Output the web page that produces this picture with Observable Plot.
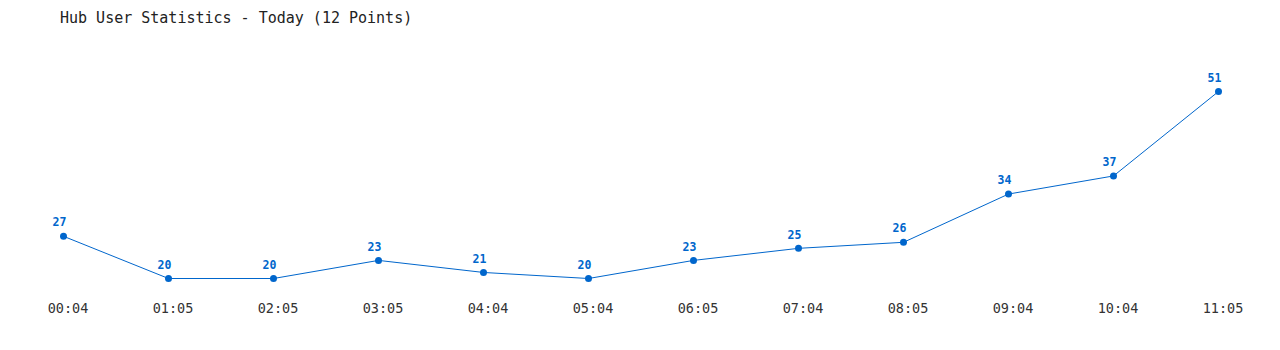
<!DOCTYPE html>
<html>
<head>
<meta charset="utf-8">
<script src="https://cdn.jsdelivr.net/npm/d3@7"></script>
<script src="https://cdn.jsdelivr.net/npm/@observablehq/plot@0.6"></script>
<style>
  html, body { margin: 0; padding: 0; background: #fff; overflow: hidden; }
  #title { font-family: "DejaVu Sans Mono", monospace; font-size: 15px; color: #222; height: 36px; line-height: 36px; padding-left: 60px; box-sizing: border-box; white-space: nowrap; }
  svg { display: block; }
</style>
</head>
<body>
<div id="title">Hub User Statistics - Today (12 Points)</div>
<div id="chart"></div>
<script>
const times = ["00:04","01:05","02:05","03:05","04:04","05:04","06:05","07:04","08:05","09:04","10:04","11:05"];
const users = [27, 20, 20, 23, 21, 20, 23, 25, 26, 34, 37, 51];

const data = times.map((t, i) => ({time: t, users: users[i]}));
const color = "#0066cc";

const chart = Plot.plot({
  width: 1280,
  height: 314,
  marginTop: 20,
  marginBottom: 50,
  marginLeft: 0,
  marginRight: 0,
  style: {fontFamily: "'DejaVu Sans Mono', monospace", background: "#fff"},
  x: {type: "point", domain: times, range: [60.5, 1220.5], padding: 0, label: null},
  y: {domain: [20, 51], range: [242, 55], axis: null},
  marks: [
    Plot.axisX({tickSize: 0, tickPadding: 3, fontSize: 13.5, fill: "#333", dx: 4.5, label: null}),
    Plot.line(data, {x: "time", y: "users", stroke: color, strokeWidth: 1}),
    Plot.dot(data, {x: "time", y: "users", r: 3.5, fill: color, stroke: null}),
    Plot.text(data, {x: "time", y: "users", text: d => String(d.users), dx: -4, dy: -13.5, fill: color, fontWeight: "bold", fontSize: 11.5})
  ]
});
document.getElementById("chart").appendChild(chart);
</script>
</body>
</html>
